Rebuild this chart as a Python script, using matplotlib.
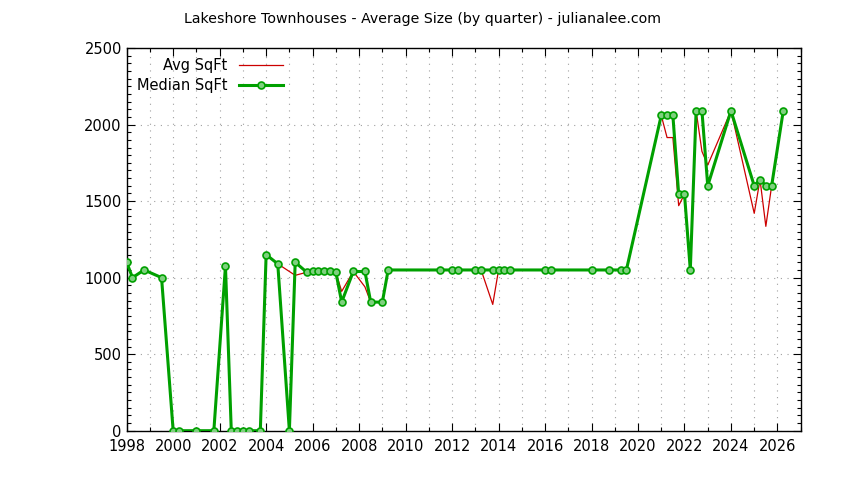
import numpy as np
import matplotlib
matplotlib.use("Agg")
import matplotlib.pyplot as plt
from matplotlib.ticker import MultipleLocator

quarters = [1998.0, 1998.25, 1998.75, 1999.5, 2000.0, 2000.25, 2001.0, 2001.75,
            2002.25, 2002.5, 2002.75, 2003.0, 2003.25, 2003.75, 2004.0, 2004.5,
            2005.0, 2005.25, 2005.75, 2006.0, 2006.25, 2006.5, 2006.75, 2007.0,
            2007.25, 2007.75, 2008.25, 2008.5, 2009.0, 2009.25, 2011.5, 2012.0,
            2012.25, 2013.0, 2013.25, 2013.75, 2014.0, 2014.25, 2014.5, 2016.0,
            2016.25, 2018.0, 2018.75, 2019.25, 2019.5, 2021.0, 2021.25, 2021.5,
            2021.75, 2022.0, 2022.25, 2022.5, 2022.75, 2023.0, 2024.0, 2025.0,
            2025.25, 2025.5, 2025.75, 2026.25]

median_sqft = [1100, 1000, 1050, 1000, 0, 0, 0, 0,
               1075, 0, 0, 0, 0, 0, 1150, 1090,
               0, 1100, 1035, 1040, 1040, 1040, 1040, 1035,
               840, 1040, 1040, 840, 840, 1050, 1050, 1050,
               1050, 1050, 1050, 1050, 1050, 1050, 1050, 1050,
               1050, 1050, 1050, 1050, 1050, 2060, 2060, 2060,
               1545, 1545, 1050, 2090, 2090, 1600, 2090, 1600,
               1640, 1600, 1600, 2090]

avg_sqft = [1100, 1000, 1050, 1000, 0, 0, 0, 0,
            1075, 0, 0, 0, 0, 0, 1150, 1090,
            None, 1015, 1035, 1040, 1040, 1040, 1040, 1035,
            910, 1040, 940, 840, 840, 1050, 1050, 1050,
            1050, 1050, 1050, 825, 1050, 1050, 1050, 1050,
            1050, 1050, 1050, 1050, 1050, 2060, 1915, 1915,
            1470, 1545, 1050, 2090, 1825, 1735, 2090, 1420,
            1640, 1335, 1600, 2090]

title = "Lakeshore Townhouses - Average Size (by quarter) - julianalee.com"

fig = plt.figure(figsize=(8.44, 4.8), dpi=100)
ax = fig.add_axes([0.1501, 0.1027, 0.9487 - 0.1501, 0.9 - 0.1027])

ax_x = [q for q, a in zip(quarters, avg_sqft) if a is not None]
ax_y = [a for a in avg_sqft if a is not None]

ax.plot(ax_x, ax_y, color="#cc0000", lw=0.9, label="Avg SqFt", zorder=2)
ax.plot(quarters, median_sqft, color="#00a000", lw=2.2, marker="o", ms=5,
        mfc="#7fd07f", mec="#00a000", mew=1.2, label="Median SqFt", zorder=3)

ax.set_xlim(1998, 2027)
ax.set_ylim(0, 2500)
ax.xaxis.set_major_locator(MultipleLocator(2))
ax.xaxis.set_minor_locator(MultipleLocator(1))
ax.yaxis.set_major_locator(MultipleLocator(500))
ax.yaxis.set_minor_locator(MultipleLocator(50))
ax.tick_params(which="both", direction="in", top=True, right=True,
               labelsize=10.5, colors="black")
ax.tick_params(which="major", length=6, width=0.8)
ax.tick_params(which="minor", length=3, width=0.8)
ax.tick_params(axis="x", pad=6)
gs = dict(color="#a0a0a0", ls=(0, (1, 5)), lw=0.8)
ax.xaxis.grid(True, which="major", **gs)
ax.xaxis.grid(True, which="minor", **gs)
ax.yaxis.grid(True, which="major", **gs)
ax.yaxis.grid(False, which="minor")
ax.set_axisbelow(True)
for s in ax.spines.values():
    s.set_linewidth(1.0)

fig.text(0.5, 0.96, title, ha="center", va="center", fontsize=10.2)

leg = ax.legend(loc="upper left", bbox_to_anchor=(0.0, 1.0), frameon=False,
                markerfirst=False, fontsize=10.5, handlelength=3.0,
                borderaxespad=0.3, labelspacing=0.35)
for t in leg.get_texts():
    t.set_ha("right")

fig.savefig("out.png", dpi=100)
